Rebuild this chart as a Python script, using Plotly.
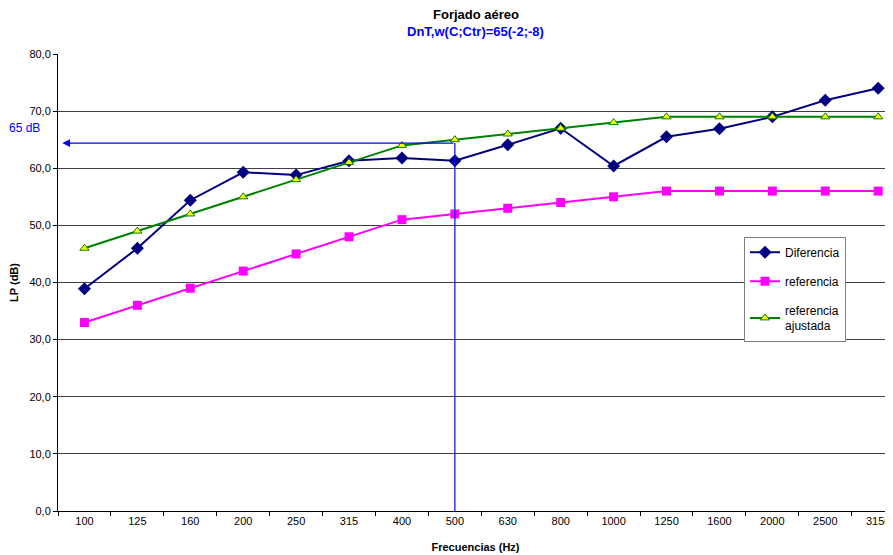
import plotly.graph_objects as go

frecuencias = ["100", "125", "160", "200", "250", "315", "400", "500", "630", "800",
               "1000", "1250", "1600", "2000", "2500", "3150"]
diferencia = [38.9, 46.0, 54.4, 59.3, 58.8, 61.3, 61.8, 61.3, 64.1, 67.0,
              60.4, 65.5, 66.9, 69.0, 71.9, 74.0]
referencia = [33, 36, 39, 42, 45, 48, 51, 52, 53, 54, 55, 56, 56, 56, 56, 56]
referencia_ajustada = [46, 49, 52, 55, 58, 61, 64, 65, 66, 67, 68, 69, 69, 69, 69, 69]
yticks = [0, 10, 20, 30, 40, 50, 60, 70, 80]
ytick_labels = ["0,0", "10,0", "20,0", "30,0", "40,0", "50,0", "60,0", "70,0", "80,0"]
nivel_flecha = 64.4
freq_flecha = "500"

FONT = "Liberation Sans, Arial, sans-serif"

fig = go.Figure()
fig.add_trace(go.Scatter(
    x=frecuencias, y=diferencia, name="Diferencia", mode="lines+markers",
    line=dict(color="#000080", width=2),
    marker=dict(symbol="diamond", size=10, color="#000080"),
    legendgroup="a"))
fig.add_trace(go.Scatter(
    x=frecuencias, y=referencia, name="referencia", mode="lines+markers",
    line=dict(color="#FF00FF", width=2),
    marker=dict(symbol="square", size=9, color="#FF00FF"),
    legendgroup="b"))
fig.add_trace(go.Scatter(
    x=frecuencias, y=referencia_ajustada, name="referencia<br>ajustada", mode="lines+markers",
    line=dict(color="#008000", width=2),
    marker=dict(symbol="triangle-up", size=8, color="#FFFF00",
                line=dict(color="#008000", width=1)),
    legendgroup="c"))

idx = frecuencias.index(freq_flecha)
fig.add_shape(type="line", xref="x", yref="y", x0=idx, x1=idx, y0=0, y1=nivel_flecha,
              line=dict(color="#0000FF", width=1.2))
fig.add_annotation(xref="x", yref="y", axref="x", ayref="y",
                   x=-0.42, y=nivel_flecha, ax=idx, ay=nivel_flecha, text="",
                   showarrow=True, arrowhead=2, arrowsize=1.3, arrowwidth=1.2,
                   arrowcolor="#0000FF")
fig.add_annotation(xref="paper", yref="y", x=-0.04, y=67.0, text="65 dB",
                   xanchor="center", showarrow=False,
                   font=dict(family=FONT, size=12, color="#0000FF"))

fig.add_annotation(xref="paper", yref="paper", x=0.5, y=1.0, yshift=40,
                   text="<b>Forjado aéreo</b>", showarrow=False, yanchor="middle",
                   font=dict(family=FONT, size=13, color="#000000"))
fig.add_annotation(xref="paper", yref="paper", x=0.5, y=1.0, yshift=23,
                   text="<b>DnT,w(C;Ctr)=65(-2;-8)</b>", showarrow=False, yanchor="middle",
                   font=dict(family=FONT, size=13, color="#0000FF"))

fig.update_layout(
    width=885, height=547,
    margin=dict(l=50, r=0, t=46, b=44, autoexpand=False),
    paper_bgcolor="white", plot_bgcolor="white",
    font=dict(family=FONT, size=11, color="#000000"),
    showlegend=True,
    legend=dict(x=0.8216, y=0.6, xanchor="left", yanchor="top",
                bgcolor="white", bordercolor="#808080", borderwidth=1,
                font=dict(family=FONT, size=12, color="#000000"),
                tracegroupgap=10, itemwidth=30),
    xaxis=dict(type="category", range=[-0.5, 15.28], showgrid=False, automargin=False,
               showline=True, linecolor="#000000", linewidth=1,
               ticks="outside", tickson="boundaries", ticklen=4, tickcolor="#000000",
               tickfont=dict(size=11),
               title=dict(text="<b>Frecuencias (Hz)</b>", font=dict(size=11), standoff=17)),
    yaxis=dict(range=[0, 80], tickvals=yticks, ticktext=ytick_labels, automargin=False,
               showgrid=True, gridcolor="#404040", gridwidth=1,
               showline=True, linecolor="#000000", linewidth=1,
               ticks="outside", ticklen=4, tickcolor="#000000",
               tickfont=dict(size=11), zeroline=False,
               title=dict(text="<b>LP (dB)</b>", font=dict(size=11), standoff=10)),
)

fig.write_html("out.html")
